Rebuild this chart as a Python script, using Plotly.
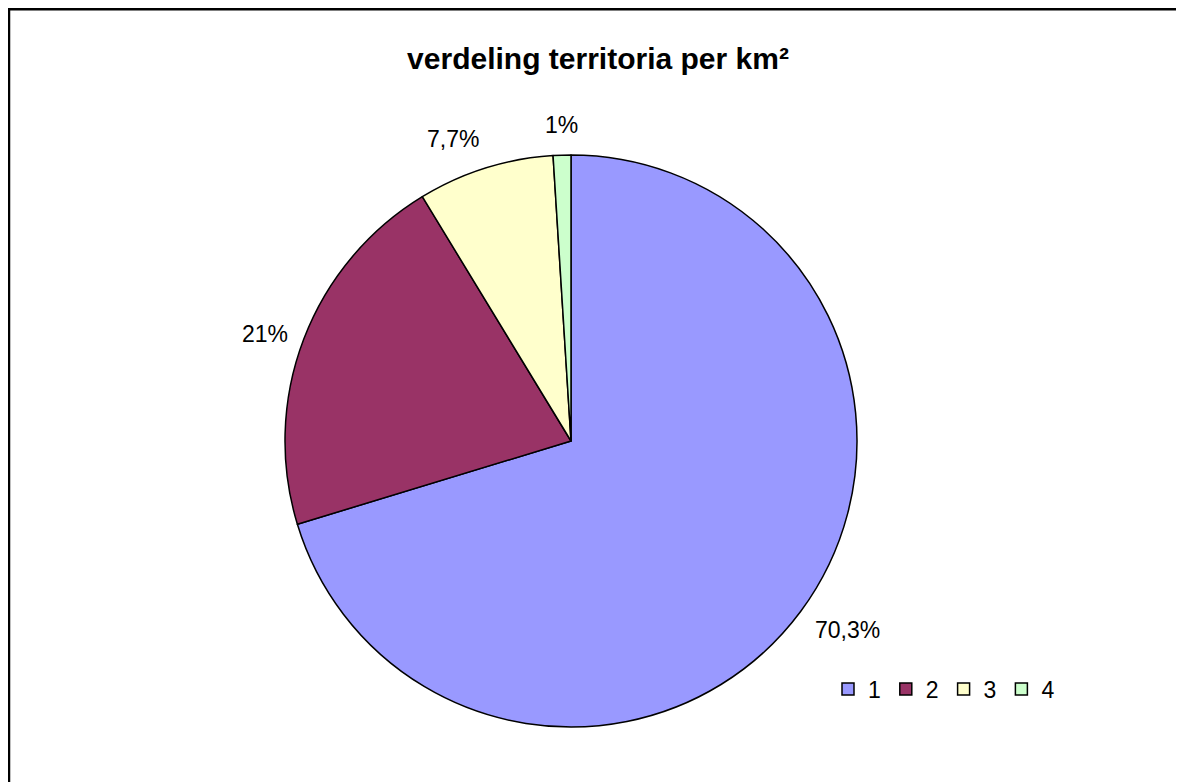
import math
import plotly.graph_objects as go

categories = ["1", "2", "3", "4"]
values = [70.3, 21, 7.7, 1]
value_labels = ["70,3%", "21%", "7,7%", "1%"]
colors = ["#9999FF", "#993366", "#FFFFCC", "#CCFFCC"]

W, H = 1184, 782
FONT = "Liberation Sans, Arial"

# pie geometry in paper pixels
CX, CY, R = 563, 433, 286
LABEL_GAP = 15

fig = go.Figure(go.Pie(
    labels=categories,
    values=values,
    textinfo="none",
    sort=False,
    direction="clockwise",
    rotation=0,
    marker=dict(colors=colors, line=dict(color="black", width=1.5)),
    domain=dict(x=[(CX - R) / W, (CX + R) / W], y=[1 - (CY + R) / H, 1 - (CY - R) / H]),
    hoverinfo="label+percent",
))

# data labels placed outside each slice along its mid-angle
total = sum(values)
cum = 0.0
annotations = []
for v, lab in zip(values, value_labels):
    theta = 2 * math.pi * (cum + v / 2) / total
    cum += v
    dx, dy = math.sin(theta), math.cos(theta)
    px = CX + (R + LABEL_GAP) * dx
    py = CY - (R + LABEL_GAP) * dy
    xa = "left" if dx > 0.2 else ("right" if dx < -0.2 else "center")
    ya = "bottom" if dy > 0.4 else ("top" if dy < -0.4 else "middle")
    annotations.append(dict(
        x=px / W, y=1 - py / H, xref="paper", yref="paper",
        text=lab, showarrow=False, xanchor=xa, yanchor=ya,
        yshift=5 if ya == "top" else 0,
        font=dict(family=FONT, size=23, color="black"),
    ))

fig.update_layout(
    width=W, height=H,
    margin=dict(l=0, r=0, t=0, b=0),
    paper_bgcolor="white",
    plot_bgcolor="white",
    title=dict(text="<b>verdeling territoria per km²</b>", x=(598 - 8) / W, xanchor="center",
               y=1 - 50 / H, yanchor="middle",
               font=dict(family=FONT, size=30, color="black")),
    legend=dict(orientation="h", x=820 / W, y=1 - 681 / H, xanchor="left", yanchor="middle",
                font=dict(family=FONT, size=23, color="black"),
                traceorder="normal"),
    annotations=annotations,
    shapes=[
        dict(type="line", xref="paper", yref="paper", x0=0, x1=1.0, y0=1 - 1.2 / H, y1=1 - 1.2 / H,
             line=dict(color="black", width=2.5)),
        dict(type="line", xref="paper", yref="paper", x0=1.0 / W, x1=1.0 / W, y0=0, y1=1,
             line=dict(color="black", width=2.5)),
    ],
)

fig.write_html("out.html")
